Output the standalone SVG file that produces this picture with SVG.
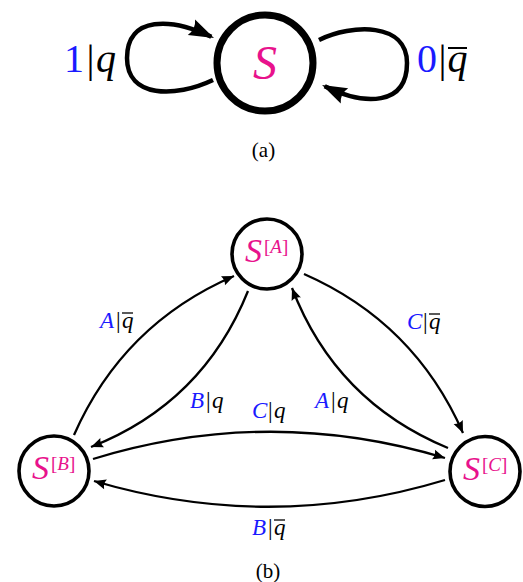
<svg xmlns="http://www.w3.org/2000/svg" width="523" height="582" viewBox="0 0 523 582">
<defs>
<style>
.t{font-family:"Liberation Serif","Times New Roman","DejaVu Serif",serif}
.i{font-style:italic}
.n{font-style:normal}
.b{fill:#1a1aff}
.k{fill:#000}
.m{fill:#e8128c}
.node{fill:#fff;stroke:#000;stroke-width:3.6}
.edge{fill:none;stroke:#000;stroke-width:2.3}
.loop{fill:none;stroke:#000;stroke-width:4.5}
.ov{stroke:#000;stroke-width:1.3}
.ovb{stroke:#000;stroke-width:2}
</style>
<marker id="ah" markerUnits="userSpaceOnUse" viewBox="-13 -7 14 14" refX="0" refY="0" markerWidth="14" markerHeight="14" orient="auto"><path d="M0,0 L-12,-5 Q-9.5,0 -12,5 Z" fill="#000"/></marker>
<marker id="ahb" markerUnits="userSpaceOnUse" viewBox="-27 -10 28 20" refX="-3" refY="0" markerWidth="28" markerHeight="20" orient="auto"><path d="M0,0 L-25,-8.5 Q-20,0 -25,8.5 Z" fill="#000"/></marker>
</defs>
<rect width="523" height="582" fill="#fff"/>
<g id="connectors">
<path class="loop" d="M213,80 C175,98 127,98 127,58 C127,15 172,18 211.3,36.7" marker-end="url(#ahb)"/>
<path class="loop" d="M319,40 C352,24 407,22 407,63 C407,106 365,106 324.7,86.3" marker-end="url(#ahb)"/>
<path class="edge" d="M74,435 Q123,324 234,276" marker-end="url(#ah)"/>
<path class="edge" d="M248,291 Q203,403 91,447" marker-end="url(#ah)"/>
<path class="edge" d="M448,448 Q335.6,401.5 292,288" marker-end="url(#ah)"/>
<path class="edge" d="M304,274 Q414.5,322.5 463,433" marker-end="url(#ah)"/>
<path class="edge" d="M93,459 Q269,405 445,458" marker-end="url(#ah)"/>
<path class="edge" d="M445,480 Q270,533 94,481" marker-end="url(#ah)"/>
</g>
<g id="labels">
<text class="t" font-size="40" y="72"><tspan class="b" x="64">1</tspan><tspan class="k" x="86.5">|</tspan><tspan class="k i" x="96">q</tspan></text>
<text class="t" font-size="40" y="72"><tspan class="b" x="417">0</tspan><tspan class="k" x="438.5">|</tspan><tspan class="k i" x="447.5">q</tspan></text>
<line class="ovb" x1="448" y1="48" x2="467" y2="48"/>
<text class="t" font-size="23" y="328"><tspan class="b i" x="100">A</tspan><tspan class="k" x="116">|</tspan><tspan class="k i" x="122">q</tspan></text>
<line class="ov" x1="122" y1="313" x2="133" y2="313"/>
<text class="t" font-size="23" y="329"><tspan class="b i" x="407">C</tspan><tspan class="k" x="423">|</tspan><tspan class="k i" x="429">q</tspan></text>
<line class="ov" x1="429" y1="314" x2="440" y2="314"/>
<text class="t" font-size="23" y="408"><tspan class="b i" x="190">B</tspan><tspan class="k" x="206">|</tspan><tspan class="k i" x="212">q</tspan></text>
<text class="t" font-size="23" y="418"><tspan class="b i" x="252">C</tspan><tspan class="k" x="268">|</tspan><tspan class="k i" x="274">q</tspan></text>
<text class="t" font-size="23" y="408"><tspan class="b i" x="315">A</tspan><tspan class="k" x="331">|</tspan><tspan class="k i" x="337">q</tspan></text>
<text class="t" font-size="23" y="535"><tspan class="b i" x="252">B</tspan><tspan class="k" x="268">|</tspan><tspan class="k i" x="274">q</tspan></text>
<line class="ov" x1="274" y1="520" x2="285" y2="520"/>
<text class="t" font-size="21" x="263.5" y="156.5" text-anchor="middle">(a)</text>
<text class="t" font-size="21" x="268" y="577.5" text-anchor="middle">(b)</text>
</g>
<g id="S">
<circle cx="265" cy="63" r="48" fill="#fff" stroke="#000" stroke-width="7"/>
<text class="t i m" font-size="48" x="265" y="79" text-anchor="middle">S</text>
</g>
<g id="SA">
<circle cx="267" cy="254" r="35" class="node"/>
<text class="t i m" font-size="34" y="262"><tspan x="245">S</tspan><tspan x="264" y="253" font-size="19"><tspan class="n">[</tspan>A<tspan class="n">]</tspan></tspan></text>
</g>
<g id="SB">
<circle cx="54" cy="471" r="35" class="node"/>
<text class="t i m" font-size="34" y="479"><tspan x="32">S</tspan><tspan x="51" y="470" font-size="19"><tspan class="n">[</tspan>B<tspan class="n">]</tspan></tspan></text>
</g>
<g id="SC">
<circle cx="485" cy="471.5" r="35" class="node"/>
<text class="t i m" font-size="34" y="479.5"><tspan x="463">S</tspan><tspan x="482" y="470.5" font-size="19"><tspan class="n">[</tspan>C<tspan class="n">]</tspan></tspan></text>
</g>
</svg>
